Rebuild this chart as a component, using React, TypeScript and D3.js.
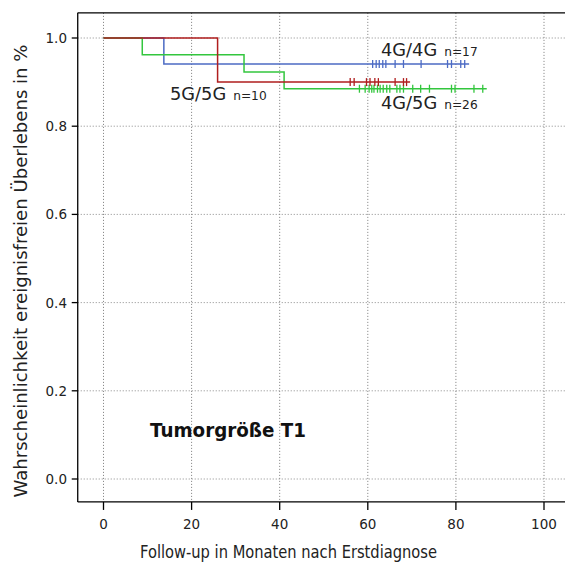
import React from "react";
import * as d3 from "d3";

// Kaplan–Meier step curves: event times (months) and survival after each step
const blueTimes = [0, 13.7];
const blueSurv = [1.0, 0.941];
const blueEnd = 83;
const blueCensor = [61.1, 61.9, 62.6, 63.4, 64.1, 66.2, 68.1, 72.1, 78.1, 79.0, 81.1, 82.0];

const redTimes = [0, 25.9];
const redSurv = [1.0, 0.9];
const redEnd = 69.6;
const redCensor = [56.0, 56.9, 59.7, 60.5, 61.6, 62.4, 66.2, 68.1, 68.8];

const greenTimes = [0, 8.8, 31.9, 41.0];
const greenSurv = [1.0, 0.962, 0.923, 0.885];
const greenEnd = 87;
const greenCensor = [58.1, 59.4, 60.3, 60.9, 61.4, 62.2, 62.8, 63.5, 64.3, 65.0, 66.6, 67.3, 68.1, 70.2, 72.0, 74.0, 79.0, 79.8, 84.1, 86.1];

const xTicks = [0, 20, 40, 60, 80, 100];
const yTicks = [0.0, 0.2, 0.4, 0.6, 0.8, 1.0];

const groupNames = ["4G/4G", "5G/5G", "4G/5G"];
const groupN = ["n=17", "n=10", "n=26"];

const W = 565;
const H = 562;
const font = "'DejaVu Sans', sans-serif";

export default function App() {
  const x = d3.scaleLinear().domain([0, 100]).range([103.5, 544]);
  const y = d3.scaleLinear().domain([0, 1]).range([479, 38]);
  const left = x(-5.85);
  const top = y(1.057);
  const bottom = y(-0.052);

  const line = d3
    .line<[number, number]>()
    .x((d) => x(d[0]))
    .y((d) => y(d[1]))
    .curve(d3.curveStepAfter);

  const series = [
    { times: blueTimes, surv: blueSurv, end: blueEnd, censor: blueCensor, color: "#4c6bc4" },
    { times: greenTimes, surv: greenSurv, end: greenEnd, censor: greenCensor, color: "#33c63e" },
    { times: redTimes, surv: redSurv, end: redEnd, censor: redCensor, color: "#b01e1e" },
  ];

  const pts = (s: typeof series[0]): [number, number][] => {
    const p: [number, number][] = s.times.map((t, i) => [t, s.surv[i]]);
    p.push([s.end, s.surv[s.surv.length - 1]]);
    return p;
  };

  return (
    <svg
      width={W}
      height={H}
      style={{ position: "absolute", left: 0, top: 0, background: "#fff" }}
      fontFamily={font}
    >
      {/* grid */}
      {xTicks.map((t) => (
        <line key={"gx" + t} x1={x(t)} x2={x(t)} y1={top} y2={bottom} stroke="#7a7a7a" strokeWidth={1} strokeDasharray="1,2" />
      ))}
      {yTicks.map((t) => (
        <line key={"gy" + t} x1={left} x2={W} y1={y(t)} y2={y(t)} stroke="#8a8a8a" strokeWidth={1} strokeDasharray="1,2" />
      ))}

      {/* curves */}
      {series.map((s, i) => {
        const last = s.surv[s.surv.length - 1];
        return (
          <g key={i}>
            <path d={line(pts(s)) || ""} fill="none" stroke={s.color} strokeWidth={1.5} />
            {s.censor.map((c, j) => (
              <line key={j} x1={x(c)} x2={x(c)} y1={y(last) - 4} y2={y(last) + 4} stroke={s.color} strokeWidth={1.3} />
            ))}
          </g>
        );
      })}

      {/* frame (right side lies beyond the visible area) */}
      <line x1={left} x2={W} y1={top} y2={top} stroke="#000" strokeWidth={1.3} />
      <line x1={left} x2={W} y1={bottom} y2={bottom} stroke="#000" strokeWidth={1.3} />
      <line x1={left} x2={left} y1={top} y2={bottom} stroke="#000" strokeWidth={1.3} />

      {/* axes */}
      {xTicks.map((t) => (
        <g key={"xt" + t}>
          <line x1={x(t)} x2={x(t)} y1={bottom} y2={bottom + 8} stroke="#000" strokeWidth={1.3} />
          <text x={x(t)} y={529} textAnchor="middle" fontSize={13.5} fill="#222">
            {t}
          </text>
        </g>
      ))}
      {yTicks.map((t) => (
        <g key={"yt" + t}>
          <line x1={left - 6} x2={left} y1={y(t)} y2={y(t)} stroke="#000" strokeWidth={1.3} />
          <text x={67} y={y(t) + 5} textAnchor="end" fontSize={13.5} fill="#222">
            {t.toFixed(1)}
          </text>
        </g>
      ))}

      <text
        x={288.5}
        y={558}
        textAnchor="middle"
        fontSize={17}
        textLength={297}
        lengthAdjust="spacingAndGlyphs"
        fill="#222"
      >
        Follow-up in Monaten nach Erstdiagnose
      </text>
      <text
        transform="translate(27, 271) rotate(-90)"
        textAnchor="middle"
        fontSize={17}
        textLength={453}
        lengthAdjust="spacingAndGlyphs"
        fill="#222"
      >
        Wahrscheinlichkeit ereignisfreien Überlebens in %
      </text>

      {/* group labels */}
      <text x={381} y={56} fontSize={17.8} fill="#222">
        {groupNames[0]}
        <tspan dx={7} fontSize={12.2}>{groupN[0]}</tspan>
      </text>
      <text x={170} y={100} fontSize={17.8} fill="#222">
        {groupNames[1]}
        <tspan dx={7} fontSize={12.2}>{groupN[1]}</tspan>
      </text>
      <text x={381} y={109} fontSize={17.8} fill="#222">
        {groupNames[2]}
        <tspan dx={7} fontSize={12.2}>{groupN[2]}</tspan>
      </text>

      <text
        x={150}
        y={437}
        fontSize={19}
        fontWeight="bold"
        textLength={156}
        lengthAdjust="spacingAndGlyphs"
        fill="#111"
      >
        Tumorgröße T1
      </text>
    </svg>
  );
}
